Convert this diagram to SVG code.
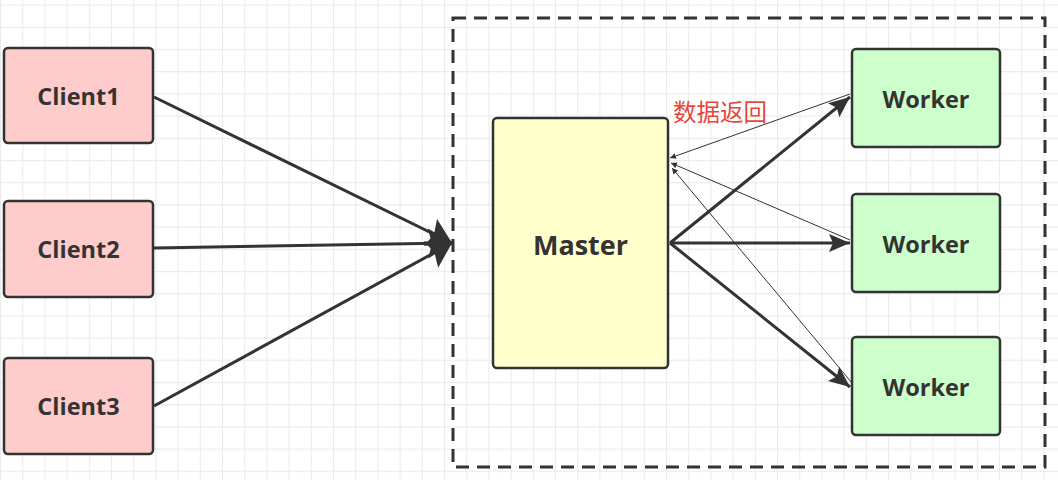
<svg xmlns="http://www.w3.org/2000/svg" width="1058" height="480" viewBox="0 0 1058 480">
<defs>
<pattern id="grid" width="22.2" height="22.2" patternUnits="userSpaceOnUse" x="0" y="4.5">
<path d="M0 0.5H22.2M0.5 0V22.2" fill="none" stroke="#ebebeb" stroke-width="1.2"/>
</pattern>
<marker id="big" markerUnits="userSpaceOnUse" markerWidth="30" markerHeight="34" refX="24" refY="17" orient="auto"><path d="M0 2L24 17L0 32L4 17Z" fill="#333"/></marker>
<marker id="ah" markerUnits="userSpaceOnUse" markerWidth="24" markerHeight="20" refX="21" refY="10" orient="auto"><path d="M0 1L21 10L0 19L4 10Z" fill="#333"/></marker>
<marker id="sm" markerUnits="userSpaceOnUse" markerWidth="8" markerHeight="8" refX="6" refY="4" orient="auto"><path d="M0 1L6 4L0 7Z" fill="#333"/></marker>
</defs>
<style>
.box{stroke:#333;stroke-width:2.5}
.client{fill:#ffcccc}
.worker{fill:#ccffcc}
.master{fill:#ffffcc}
.t{font-family:"Open Sans","Liberation Sans",sans-serif;font-weight:bold;fill:#333;text-anchor:middle}
.thick{stroke:#333;stroke-width:3;fill:none}
.thin{stroke:#333;stroke-width:1;fill:none}
</style>
<rect width="1058" height="480" fill="#fff"/>
<rect width="1058" height="480" fill="url(#grid)"/>
<rect id="cluster" x="453" y="18" width="592" height="449" fill="none" stroke="#333" stroke-width="3" stroke-dasharray="13 8"/>
<g id="connectors">
<line class="thick" x1="154" y1="97" x2="452" y2="243" marker-end="url(#big)"/>
<line class="thick" x1="154" y1="248" x2="452" y2="243" marker-end="url(#big)"/>
<line class="thick" x1="154" y1="406" x2="452" y2="243" marker-end="url(#big)"/>
<line class="thick" x1="670" y1="243" x2="850" y2="97" marker-end="url(#ah)"/>
<line class="thick" x1="670" y1="243" x2="850" y2="243" marker-end="url(#ah)"/>
<line class="thick" x1="670" y1="243" x2="850" y2="387" marker-end="url(#ah)"/>
<line class="thin" x1="850" y1="94" x2="670" y2="158" marker-end="url(#sm)"/>
<line class="thin" x1="850" y1="240" x2="671" y2="163" marker-end="url(#sm)"/>
<line class="thin" x1="852" y1="383" x2="672" y2="168" marker-end="url(#sm)"/>
</g>
<text x="673" y="121" font-family="'Noto Sans CJK SC',sans-serif" font-size="23.5" fill="#e8463c">数据返回</text>
<g id="client1"><rect class="box client" x="4" y="48" width="149" height="95" rx="4"/><text class="t" x="78.5" y="105" font-size="23.5">Client1</text></g>
<g id="client2"><rect class="box client" x="4" y="201" width="149" height="96" rx="4"/><text class="t" x="78.5" y="258" font-size="23.5">Client2</text></g>
<g id="client3"><rect class="box client" x="4" y="358" width="149" height="96" rx="4"/><text class="t" x="78.5" y="415" font-size="23.5">Client3</text></g>
<g id="master"><rect class="box master" x="493" y="118" width="175" height="250" rx="4"/><text class="t" x="580.5" y="255" font-size="27">Master</text></g>
<g id="worker1"><rect class="box worker" x="852" y="49" width="148" height="98" rx="4"/><text class="t" x="926" y="108" font-size="23.5">Worker</text></g>
<g id="worker2"><rect class="box worker" x="852" y="194" width="148" height="98" rx="4"/><text class="t" x="926" y="253" font-size="23.5">Worker</text></g>
<g id="worker3"><rect class="box worker" x="852" y="337" width="148" height="98" rx="4"/><text class="t" x="926" y="396" font-size="23.5">Worker</text></g>
</svg>
